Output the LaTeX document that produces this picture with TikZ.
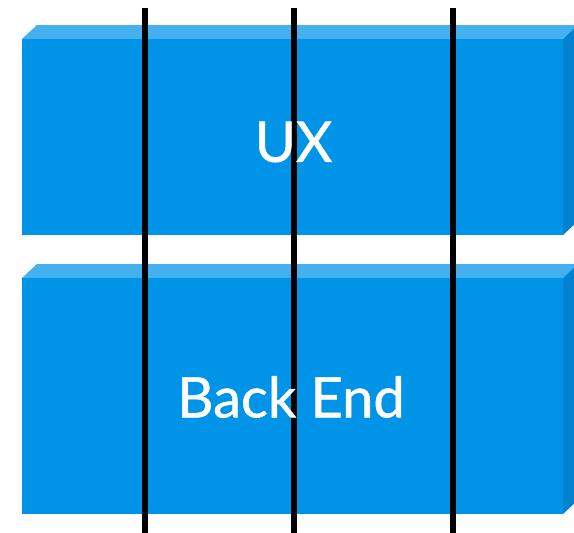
\documentclass[tikz,border=0pt]{standalone}
\usepackage{fontspec}
\setmainfont{Lato}
\newfontfamily\lblfont{Lato}[FakeBold=0.9]
\begin{document}
\begin{tikzpicture}[x=1pt,y=-1pt,
  front/.style={fill=frontc,draw=none},
  topface/.style={fill=topc,draw=none},
  sideface/.style={fill=sidec,draw=none},
  vline/.style={line width=6pt,black},
  lbl/.style={text=white,font=\lblfont\fontsize{56}{60}\selectfont,inner sep=0pt,anchor=center}]
\definecolor{frontc}{HTML}{0094E8}
\definecolor{topc}{HTML}{45B0F0}
\definecolor{sidec}{HTML}{0082CF}
\useasboundingbox (0,0) rectangle (574,533);
% UX box
\fill[topface] (22,39) -- (37,25) -- (578,25) -- (563,39) -- cycle;
\fill[sideface] (563,39) -- (578,25) -- (578,221) -- (563,235) -- cycle;
\fill[front] (22,39) rectangle (563,235);
% Back End box
\fill[topface] (22,278) -- (37,264) -- (578,264) -- (563,278) -- cycle;
\fill[sideface] (563,278) -- (578,264) -- (578,500) -- (563,514) -- cycle;
\fill[front] (22,278) rectangle (563,514);
% vertical lines
\coordinate (l1t) at (145,8); \coordinate (l1b) at (145,533);
\coordinate (l2t) at (293.5,8); \coordinate (l2b) at (293.5,533);
\coordinate (l3t) at (453,8); \coordinate (l3b) at (453,533);
\draw[vline] (l1t) -- (l1b);
\draw[vline] (l2t) -- (l2b);
\draw[vline] (l3t) -- (l3b);
% labels
\node[lbl] (ux) at (293.5,142) {UX};
\node[lbl] (be) at (291,397) {Back End};
\end{tikzpicture}
\end{document}
